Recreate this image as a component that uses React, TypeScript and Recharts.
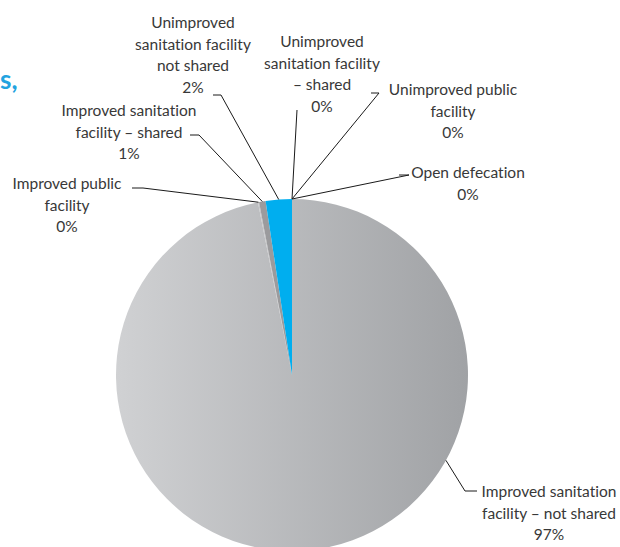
import { PieChart, Pie, Cell } from 'recharts';

// sanitation categories, in the order the pie runs clockwise from 12 o'clock
const categoryLines = [
  ['Improved sanitation', 'facility – not shared'],
  ['Improved public', 'facility'],
  ['Improved sanitation', 'facility – shared'],
  ['Unimproved', 'sanitation facility', 'not shared'],
  ['Unimproved', 'sanitation facility', '– shared'],
  ['Unimproved public', 'facility'],
  ['Open defecation'],
];
const shares = [96.9, 0.1, 0.6, 2.4, 0, 0, 0];
const sliceColors = ['url(#bigSlice)', '#c4c5c7', '#9b9b9d', '#00aeef', '#00aeef', '#9b9b9d', '#9b9b9d'];

const data = categoryLines.map((lines, i) => ({ name: lines.join(' '), value: shares[i] }));

// where each label sits relative to the pie centre (first baseline), and the elbow of its leader
const labelPlacement = [
  { tx: 257, ty: 122, elbow: [[173, 116], [185, 116]], anchorAngle: -29 },
  { tx: -225, ty: -186, elbow: [[-149, -187], [-160, -187]] },
  { tx: -163, ty: -259, elbow: [[-93, -240], [-102, -240]] },
  { tx: -99, ty: -347, elbow: [[-71, -280], [-79, -280]] },
  { tx: 30, ty: -328, elbow: [[5, -265]] },
  { tx: 161, ty: -280, elbow: [[87, -282], [79, -282]] },
  { tx: 176, ty: -197, elbow: [[117, -200], [107, -200]] },
];

const LINE_H = 21.5;

const renderLabel = (props: any) => {
  const { cx, cy, midAngle, outerRadius, index, percent } = props;
  const p = labelPlacement[index];
  const ang = ((p.anchorAngle ?? midAngle) * Math.PI) / 180;
  const sx = cx + outerRadius * Math.cos(ang);
  const sy = cy - outerRadius * Math.sin(ang);
  const pts = [[sx, sy], ...p.elbow.map(([x, y]) => [cx + x, cy + y])];
  const lines = [...categoryLines[index], `${Math.round(percent * 100)}%`];
  return (
    <g key={`lbl-${index}`}>
      <polyline points={pts.map((q) => q.join(',')).join(' ')} fill="none" stroke="#1a1a1a" strokeWidth={1} />
      <text
        x={cx + p.tx}
        y={cy + p.ty}
        textAnchor="middle"
        fill="#383838"
        fontSize={15.5}
        fontFamily="Lato, 'Liberation Sans', sans-serif"
        style={{ fontVariantLigatures: 'none' }}
      >
        {lines.map((l, i) => (
          <tspan key={i} x={cx + p.tx} dy={i === 0 ? 0 : LINE_H}>
            {l}
          </tspan>
        ))}
      </text>
    </g>
  );
};

export default function App() {
  return (
    <div style={{ position: 'absolute', left: 0, top: 0, width: 620, height: 547, overflow: 'hidden', background: '#fff', fontFamily: 'Lato, "Liberation Sans", sans-serif' }}>
      <div style={{ position: 'absolute', left: 0, top: 64, color: '#22a3e0', fontWeight: 700, fontSize: 26, lineHeight: '30px' }}>s,</div>
      <PieChart width={620} height={560} margin={{ top: 0, right: 0, bottom: 0, left: 0 }} style={{ position: 'absolute', left: 0, top: 0 }}>
        <defs>
          <linearGradient id="bigSlice" x1="0" y1="0" x2="1" y2="0">
            <stop offset="0%" stopColor="#d0d1d3" />
            <stop offset="100%" stopColor="#a0a2a5" />
          </linearGradient>
        </defs>
        <Pie
          data={data}
          dataKey="value"
          nameKey="name"
          cx={292}
          cy={375}
          outerRadius={176}
          startAngle={90}
          endAngle={-270}
          stroke="none"
          label={renderLabel}
          labelLine={false}
          isAnimationActive={false}
        >
          {data.map((d, i) => (
            <Cell key={d.name} fill={sliceColors[i]} />
          ))}
        </Pie>
      </PieChart>
    </div>
  );
}
